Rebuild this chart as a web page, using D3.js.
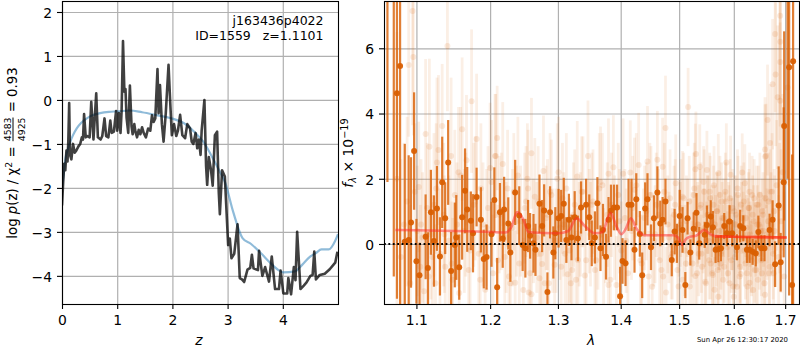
<!DOCTYPE html>
<html>
<head>
<meta charset="utf-8">
<script src="https://cdn.jsdelivr.net/npm/d3@7"></script>
<style>
    html, body { margin: 0; padding: 0; background: #fff; }
    svg { display: block; }
    text { font-family: "DejaVu Sans", sans-serif; fill: #000; }
</style>
</head>
<body>
<div id="chart"></div>
<script>
// Left panel: redshift grid and log p(z)
const pzZ = [0,.02,.04,.06,.08,.1,.115,.13,.145,.17,.2,.23,.26,.3,.33,.36,.38,.4,.43,.46,.5,.53,.57,.62,.65,.7,.73,.77,.8,.84,.875,.9,.94,.98,1,1.03,1.06,1.08,1.105,1.13,1.15,1.17,1.2,1.23,1.26,1.28,1.31,1.33,1.36,1.39,1.42,1.45,1.48,1.52,1.56,1.6,1.63,1.66,1.69,1.73,1.75,1.775,1.81,1.84,1.88,1.93,1.96,1.99,2.03,2.07,2.1,2.14,2.18,2.23,2.27,2.32,2.35,2.38,2.42,2.45,2.48,2.51,2.53,2.58,2.61,2.63,2.66,2.7,2.73,2.77,2.81,2.84,2.86,2.9,2.95,3.01,3.04,3.07,3.12,3.18,3.22,3.26,3.3,3.36,3.41,3.44,3.47,3.55,3.57,3.63,3.68,3.75,3.8,3.86,3.93,3.96,4.01,4.08,4.1,4.15,4.2,4.23,4.26,4.32,4.38,4.43,4.5,4.54,4.57,4.6,4.67,4.76,4.85,4.95,4.99];
const pzLog = [-2.4,-1.9,-1.45,-1.6,-1.15,-1.4,-.9,-.07,-1.25,-1.35,-1,-1.2,-1.15,-1.05,-1,-.85,-.9,-.32,-.85,-.82,-.85,-.04,-.9,.15,-.85,-.9,-.82,-.42,-.82,-.85,-.47,-.75,-.72,-.25,-.7,-.3,-.75,-.25,1.34,.19,.25,-.41,-.75,.33,-.6,-.78,-.55,-.72,-.85,-.68,-.78,-.62,-.75,-.85,-.65,-.7,-.35,-.5,-.42,.7,-.3,.34,-.55,-.95,-.3,.8,-.04,-.8,-.55,-.82,-.7,-.34,-.8,-.87,-.55,-.65,-.95,-1,-.75,-1.1,-.9,-1.25,-.7,0,-1.5,-1.93,-1.3,-1.6,-1.95,-.8,-.72,-2.1,-2.6,-1.6,-1.74,-3.3,-3.15,-3.6,-3.5,-2.83,-4.05,-4.08,-4.14,-3.86,-3.82,-3.52,-3.83,-3.87,-3.43,-4,-3.8,-4.13,-3.56,-4.3,-4.3,-3.88,-4.4,-4.4,-4.05,-4.42,-3.8,-4.1,-3,-4.3,-4.22,-4.15,-4,-3.98,-3.45,-4.08,-3.98,-3.95,-3.85,-3.7,-3.45];
const fitZ = [0,.03,.06,.1,.15,.2,.27,.35,.45,.55,.69,.85,1,1.23,1.45,1.73,1.96,2.26,2.4,2.56,2.7,2.86,2.95,3.1,3.27,3.42,3.6,3.77,3.9,4.01,4.22,4.35,4.49,4.6,4.7,4.83,4.95,5];
const fitLog = [-2,-1.7,-1.35,-1.15,-.95,-.8,-.64,-.52,-.42,-.35,-.3,-.27,-.26,-.24,-.28,-.35,-.41,-.57,-.73,-.95,-1.25,-1.63,-1.86,-2.54,-3.14,-3.27,-3.48,-3.7,-3.85,-3.92,-3.9,-3.75,-3.57,-3.48,-3.4,-3.4,-3.2,-3.05];
const zTicks = [0, 1, 2, 3, 4];
const logTicks = [2, 1, 0, -1, -2, -3, -4];

// Right panel: faint single-exposure spectrum
const faintLam = [
    1.075,1.08,1.084,1.088,1.09,1.092,1.095,1.096,1.098,1.101,
    1.103,1.105,1.108,1.11,1.112,1.114,1.117,1.119,1.121,1.123,
    1.125,1.127,1.129,1.131,1.134,1.136,1.138,1.141,1.143,1.146,
    1.148,1.151,1.154,1.157,1.159,1.161,1.164,1.167,1.17,1.174,
    1.177,1.181,1.184,1.187,1.19,1.193,1.197,1.2,1.204,1.207,
    1.208,1.21,1.213,1.218,1.221,1.225,1.229,1.232,1.236,1.24,
    1.244,1.248,1.252,1.255,1.256,1.26,1.26,1.265,1.268,1.272,
    1.276,1.278,1.28,1.284,1.288,1.292,1.295,1.299,1.303,1.307,
    1.311,1.315,1.32,1.322,1.326,1.33,1.331,1.335,1.339,1.342,
    1.347,1.351,1.355,1.36,1.365,1.37,1.375,1.38,1.38,1.385,
    1.388,1.393,1.398,1.404,1.409,1.416,1.42,1.423,1.43,1.435,
    1.44,1.445,1.449,1.453,1.458,1.46,1.462,1.466,1.471,1.472,
    1.476,1.477,1.48,1.484,1.488,1.491,1.494,1.497,1.5,1.503,
    1.506,1.506,1.51,1.513,1.516,1.518,1.521,1.524,1.527,1.529,
    1.529,1.53,1.533,1.535,1.537,1.539,1.541,1.543,1.545,1.547,
    1.549,1.55,1.552,1.554,1.556,1.558,1.56,1.561,1.563,1.565,
    1.567,1.569,1.571,1.571,1.573,1.575,1.577,1.579,1.581,1.582,
    1.584,1.586,1.588,1.59,1.592,1.594,1.596,1.598,1.6,1.602,
    1.604,1.606,1.608,1.61,1.612,1.613,1.614,1.616,1.618,1.62,
    1.621,1.623,1.625,1.627,1.629,1.63,1.63,1.632,1.634,1.636,
    1.637,1.639,1.641,1.643,1.645,1.647,1.649,1.65,1.652,1.654,
    1.656,1.658,1.66,1.66,1.66,1.662,1.664,1.665,1.667,1.669,
    1.67,1.672,1.674,1.675,1.677,1.679,1.68,1.681,1.683,1.685,
    1.687,1.689,1.69,1.69,1.69,1.69,1.692,1.695,1.698,1.705,
    1.106,1.116,1.126,1.137,1.147,1.156,1.166,1.172,1.179,1.186,
    1.195,1.202,1.211,1.216,1.223,1.227,1.234,1.238,1.242,1.25,
    1.254,1.258,1.263,1.27,1.274,1.282,1.286,1.29,1.297,1.301,
    1.305,1.309,1.313,1.318,1.324,1.328,1.333,1.337,1.344,1.349,
    1.353,1.358,1.363,1.367,1.372,1.378,1.383,1.39,1.396,1.401,
    1.407,1.412,1.418,1.426,1.433,1.438,1.443,1.447,1.451,1.456,
    1.464,1.469,1.474,1.482,1.486,1.493,1.499,1.502,1.508,1.512,
    1.515,1.519,1.523,1.526,1.532,1.534,1.538,1.54,1.544,1.546,
    1.548,1.551,1.553,1.555,1.557,1.559,1.562,1.564,1.566,1.568,
    1.57,1.572,1.574,1.576,1.578,1.58,1.583,1.585,1.587,1.589,
    1.591,1.593,1.595,1.597,1.599,1.601,1.603,1.605,1.607,1.609,
    1.611,1.615,1.617,1.619,1.622,1.624,1.626,1.628,1.631,1.633,
    1.635,1.638,1.64,1.642,1.644,1.646,1.648,1.651,1.653,1.655,
    1.657,1.659,1.661,1.663,1.666,1.668,1.671,1.673,1.676,1.678
];
const faintFlux = [
    2,-.4,.6,1.3,5.49,-1.2,7.14,5.73,1.6,.4,
    1.75,-.7,.2,-1.45,3.37,1.1,2.98,.3,-.4,1.2,
    -1.2,2.5,2.88,-.3,3.62,.9,-.7,6.07,.1,2.7,
    -1.1,1.5,.6,-1.5,2.1,3.52,.4,2.57,-.8,4.38,
    1.2,3.22,-.3,1.7,.6,-1.4,1.1,2.33,-.9,2.7,
    2.7,3.25,.9,2.45,-.4,1.7,-1.2,.5,-1.19,2.1,
    .7,-1.41,1.3,1.7,-1.49,2.78,-1.54,1.45,.2,-1.05,
    -.61,2.24,-1.2,.9,1.6,.1,-.64,2,.5,1.4,
    -.3,-.93,-1.2,-.8,1.2,2.07,-.49,.6,1.6,-.97,
    2.7,.3,1.3,-.5,1.7,1.8,.4,2.15,-1.26,1.2,
    2.35,-1.26,.7,2.15,.1,2.19,1.1,1.66,2.42,-.6,
    .8,2.53,1.5,-1.31,.3,1.2,2.58,-.5,2.37,-1,
    3.56,-1.49,.6,1.4,-.3,.9,1.86,-.8,.5,1.1,
    1.45,-1.1,-.2,.7,4.2,1.3,.1,-.6,1.7,2.29,
    -.98,2.76,.6,-.3,2.37,1.2,-.7,.4,1.6,-1.16,
    .1,2.27,.9,-.5,1.4,.3,-.9,-.95,1.8,.6,
    -.2,1,2.17,-1.62,.4,-.6,1.3,.1,.8,-.7,
    1.6,2.5,-.1,.7,-1.2,2.12,.3,1.1,-1.62,-.4,
    .9,-1.31,1.5,.2,-.7,-.92,1.2,2.19,.5,-.2,
    1.86,.8,-.9,.3,1.1,1.6,-1.19,.1,-.5,.9,
    -1.41,1.4,.2,-.8,.6,1.2,-.3,1.5,.4,-.9,
    .9,-.1,2.68,2.9,-1.56,2.7,.3,3.8,1.3,-.7,
    3.1,.6,1.6,4.9,-.9,.4,6.44,5.2,1.8,4.5,
    -.4,1.1,7,6.2,5.58,4.39,.7,2.2,-1,4.8,
    .6,-1,1.7,.3,-.6,2.2,.9,-.2,1.4,-1.1,
    .5,1.9,-.5,1,.2,-1,1.6,.7,-.6,1.1,
    2,-.9,.4,1.3,-.3,.8,-1.2,1.5,.1,2.2,
    -.7,.6,1.7,-.2,.9,-1.1,.3,1.6,-.5,.7,
    1.2,-.8,.2,1.9,-.4,.9,-1.1,.5,1.5,-.2,
    .8,-.9,.4,1.8,-.5,.3,1,-1,1.5,.1,
    .9,-.8,1.6,.2,-.4,1.2,-1.3,.6,1.4,-.6,
    .8,-1.3,.3,1.5,-.9,.6,1.1,-.3,1.9,.5,
    -1.2,.9,.1,1.6,-.6,.7,1.2,-1.4,.4,1,
    -.8,.2,1.5,-.3,.8,-1.1,.5,1.3,.1,-.9,
    .7,1.4,-.5,.3,-1.3,1,.6,-.2,1.7,.4,
    -1,.8,.2,1.3,-.6,.5,-1.3,1.1,.3,-.4,
    1.5,.7,-.8,.1,1.2,-1.1,.6,.2,-.5,1,
    .4,-1.2,1.4,.1,.7,-.9,1.6,.3,-.3,1
];
const faintErr = [
    4.5,3,2.5,2.6,2.2,2.4,3.5,2.4,2.1,2,
    2,1.9,2,1.8,2.3,2,2.7,2,1.9,2.2,
    1.8,2.6,2.3,2,1.9,2.2,1.8,2,2,2.4,
    1.9,2,1.9,1.8,2.1,2.2,1.9,2,1.8,2.2,
    1.9,2,1.8,2,1.9,1.7,1.9,2,1.8,1.9,
    1.9,1.6,1.8,1.9,1.7,1.8,1.7,1.8,1.6,1.8,
    1.7,1.6,1.7,1.8,1.6,1.7,1.5,1.8,1.7,1.6,
    1.7,1.7,1.5,1.7,1.8,1.6,1.6,1.7,1.6,1.7,
    1.6,1.5,1.5,1.6,1.7,1.7,1.6,1.6,1.7,1.5,
    1.7,1.6,1.6,1.5,1.7,1.6,1.6,1.7,1.5,1.6,
    1.6,1.5,1.6,1.7,1.6,1.6,1.6,1.6,1.6,1.5,
    1.6,1.7,1.6,1.4,1.5,1.6,1.5,1.4,1.5,1.4,
    1.6,1.4,1.5,1.5,1.4,1.5,1.5,1.4,1.5,1.5,
    1.4,1.4,1.4,1.4,1.2,1.4,1.3,1.3,1.4,1.4,
    1.2,1.3,1.3,1.3,1.3,1.3,1.2,1.3,1.3,1.2,
    1.2,1.2,1.2,1.2,1.3,1.2,1.2,1.1,1.2,1.2,
    1.1,1.2,1.2,1.1,1.2,1.1,1.2,1.1,1.2,1.1,
    1.2,1.2,1.1,1.2,1.1,1.2,1.1,1.2,1.1,1.1,
    1.2,1.1,1.2,1.1,1.1,1.1,1.2,1.2,1.1,1.1,
    1.2,1.2,1.1,1.1,1.2,1.2,1.1,1.1,1.1,1.2,
    1.1,1.2,1.1,1.1,1.2,1.2,1.1,1.3,1.2,1.2,
    1.3,1.2,1.6,1.6,1.4,1.6,1.4,1.7,1.5,1.4,
    1.8,1.6,1.8,2,1.7,1.7,2.4,2.2,2,2.2,
    1.9,2,3,2.6,2.4,2.4,2.2,2.4,2.6,3,
    2,1.9,2,1.8,1.9,2,1.9,1.8,1.9,1.7,
    1.8,1.9,1.7,1.8,1.7,1.6,1.8,1.7,1.6,1.7,
    1.7,1.5,1.6,1.7,1.6,1.6,1.5,1.7,1.6,1.7,
    1.5,1.6,1.7,1.6,1.6,1.5,1.6,1.7,1.5,1.6,
    1.6,1.5,1.6,1.7,1.5,1.6,1.5,1.6,1.6,1.5,
    1.5,1.4,1.5,1.6,1.4,1.4,1.5,1.4,1.5,1.4,
    1.4,1.3,1.5,1.4,1.3,1.4,1.3,1.3,1.4,1.3,
    1.2,1.2,1.3,1.3,1.2,1.2,1.2,1.2,1.1,1.2,
    1.1,1.2,1.1,1.2,1.1,1.1,1.2,1,1.1,1.2,
    1.1,1,1.2,1.1,1.1,1,1.1,1.2,1.1,1,
    1.1,1.2,1,1.1,1.2,1.1,1,1.1,1.2,1.1,
    1,1.1,1,1.2,1.1,1,1.2,1.1,1,1.1,
    1.2,1.1,1,1.1,1.2,1.1,1,1.2,1.1,1,
    1.1,1.2,1.2,1.1,1.3,1.2,1.3,1.2,1.4,1.3
];

// Right panel: solid combined spectrum
const solidLam = [
    1.063,1.071,1.075,1.079,1.085,1.09,1.093,1.097,1.1,1.104,
    1.112,1.115,1.119,1.123,1.127,1.131,1.134,1.138,1.142,1.146,
    1.151,1.153,1.157,1.161,1.165,1.168,1.173,1.176,1.181,1.187,
    1.191,1.195,1.202,1.206,1.21,1.214,1.218,1.22,1.226,1.229,
    1.236,1.242,1.247,1.251,1.255,1.258,1.263,1.266,1.272,1.276,
    1.279,1.284,1.288,1.293,1.296,1.301,1.305,1.309,1.313,1.317,
    1.321,1.326,1.331,1.336,1.344,1.349,1.353,1.358,1.362,1.367,
    1.371,1.376,1.38,1.384,1.389,1.394,1.399,1.403,1.408,1.413,
    1.418,1.423,1.426,1.432,1.436,1.441,1.445,1.451,1.456,1.462,
    1.467,1.471,1.476,1.487,1.492,1.496,1.501,1.506,1.511,1.515,
    1.52,1.526,1.531,1.536,1.546,1.55,1.557,1.561,1.566,1.571,
    1.576,1.582,1.587,1.592,1.597,1.606,1.612,1.618,1.625,1.63,
    1.636,1.642,1.647,1.653,1.659,1.669,1.675,1.68,1.687,1.691,
    1.697,1.698,1.705,1.708,1.714,1.716
];
const solidFlux = [
    8,8.5,4.62,5.46,.07,.12,.66,2.85,-.53,-.96,
    .22,-.74,.97,.09,1.09,-.38,1.89,.79,2.5,-.83,
    -.03,.2,-.71,.82,1.63,1.06,.71,.33,1.44,.74,
    -.46,-.4,.3,1.35,-1.33,.97,.17,1.06,.63,-.26,
    1.58,.87,-.03,-.13,.55,.25,.02,-.18,1.23,.55,
    1.03,-1.47,.97,-.26,.33,.79,.86,1.23,.12,.74,
    .2,.82,.17,1.12,1.2,.82,.02,.2,1.25,-.13,
    .43,-.39,.74,1.02,1.12,1.12,-1.6,-.52,-.59,1.2,
    1.2,-.18,1.37,.31,-.96,1.09,1.37,-.1,.79,1.58,
    .63,.74,1.3,-.49,.38,.02,.86,.43,-1.26,.79,
    -.26,.47,.96,.02,.28,.58,.84,.51,-.18,-.16,
    -.13,.55,.33,.69,.33,-.1,.55,.48,-.18,-.18,
    -.24,-.29,.37,-.13,-.13,.43,.74,-.62,1.18,-.56,
    1.89,3.62,9,5.42,-1.26,5.6
];
const solidErr = [
    6.1,9.5,6.3,7.5,3,2.6,2,1.8,1.3,1,
    1.3,1.1,1.3,1.4,1.3,1.2,1.4,1.1,1.3,1.2,
    1.3,1.3,1,1.3,1.3,1.3,.9,1.2,.9,1,
    .9,1,1,1,.9,.9,.9,1,.8,.9,
    1,.9,.8,.9,.8,.7,.9,.8,.9,.8,
    .8,.6,.8,.8,.8,.9,.8,.8,.7,.8,
    .7,.8,.7,.8,.8,.7,.7,.8,.8,.7,
    .8,.7,.7,.8,.7,.7,.9,.7,.7,.8,
    .8,.7,.8,.7,.7,.8,.8,.7,.7,.8,
    .7,.7,.7,.5,.7,.6,.8,.7,.4,.5,
    .4,.5,.6,.5,.4,.6,.5,.5,.4,.4,
    .4,.4,.4,.5,.4,.4,.5,.4,.4,.4,
    .4,.4,.5,.4,.4,.5,.6,.7,1.2,.9,
    2.3,2.9,7,7,4,8
];

// Right panel: model trace
const modelLam = [1.073,1.1,1.15,1.2,1.222,1.23,1.239,1.248,1.256,1.3,1.316,1.329,1.342,1.358,1.37,1.383,1.394,1.401,1.408,1.417,1.427,1.44,1.47,1.49,1.498,1.505,1.512,1.52,1.53,1.545,1.556,1.565,1.6,1.65,1.703];
const modelFlux = [.43,.42,.4,.37,.35,.5,.98,.75,.36,.33,.4,.79,.55,.33,.36,.95,.5,.3,.45,.79,.45,.27,.27,.27,.2,-.03,.15,.22,.25,.43,.3,.24,.22,.21,.2];
const lamTicks = [1.1, 1.2, 1.3, 1.4, 1.5, 1.6, 1.7];
const fluxTicks = [0, 2, 4, 6];

const width = 800;
const height = 350;
const panelTop = 1;
const panelBottom = 304;
const minus = d => String(d).replace("-", "\u2212");

const svg = d3.select("#chart").append("svg")
    .attr("width", width)
    .attr("height", height);

// Clip path, grid and spines shared by the two panels.
function makePanel(id, x0, x1, x, y, xTicks, yTicks, xFormat) {
    svg.append("clipPath").attr("id", id).append("rect")
        .attr("x", x0).attr("y", panelTop)
        .attr("width", x1 - x0).attr("height", panelBottom - panelTop);

    const grid = svg.append("g");
    grid.append("g")
        .attr("transform", `translate(0,${panelBottom})`)
        .call(d3.axisBottom(x).tickValues(xTicks).tickSize(-(panelBottom - panelTop)).tickFormat(""));
    grid.append("g")
        .attr("transform", `translate(${x0},0)`)
        .call(d3.axisLeft(y).tickValues(yTicks).tickSize(-(x1 - x0)).tickFormat(""));
    grid.selectAll(".domain").remove();
    grid.selectAll("line").attr("stroke", "#b0b0b0").attr("stroke-width", 1.2);

    const plot = svg.append("g").attr("clip-path", `url(#${id})`);

    // Axes go on last, once the marks are in.
    const finish = () => {
        const xAxis = svg.append("g")
            .attr("transform", `translate(0,${panelBottom})`)
            .call(d3.axisBottom(x).tickValues(xTicks).tickSize(5).tickPadding(6).tickFormat(xFormat));
        const yAxis = svg.append("g")
            .attr("transform", `translate(${x0},0)`)
            .call(d3.axisLeft(y).tickValues(yTicks).tickSize(5).tickPadding(5).tickFormat(minus));
        yAxis.selectAll("text").attr("dy", ".38em");
        [xAxis, yAxis].forEach(a => {
            a.attr("font-family", null).attr("font-size", null);
            a.selectAll("text").style("font-size", "13.9px");
            a.selectAll(".domain").remove();
            a.selectAll("line").attr("stroke", "#000").attr("stroke-width", 1.1);
        });
        svg.append("rect")
            .attr("x", x0 + .5).attr("y", panelTop + .5)
            .attr("width", x1 - x0).attr("height", panelBottom - panelTop)
            .attr("fill", "none").attr("stroke", "#000").attr("stroke-width", 1.1);
    };
    return { plot, finish };
}

// Sets a run of mixed text along a line, used for the rotated labels.
function mathLabel(cx, cy, fontSize, runs) {
    const g = svg.append("g").attr("transform", `translate(${cx},${cy}) rotate(-90)`);
    const inner = g.append("g");
    const small = fontSize * .7;
    let pos = 0;
    runs.forEach(r => {
        if (r.frac) {
            const a = inner.append("text").attr("y", -6.5).style("font-size", small + "px").text(r.frac[0]);
            const b = inner.append("text").attr("y", 7.5).style("font-size", small + "px").text(r.frac[1]);
            const w = Math.max(a.node().getComputedTextLength(), b.node().getComputedTextLength());
            a.attr("x", pos + 1); b.attr("x", pos + 1);
            inner.append("line")
                .attr("x1", pos + 1).attr("x2", pos + 1 + w)
                .attr("y1", -4).attr("y2", -4)
                .attr("stroke", "#000").attr("stroke-width", 1);
            pos += w + 2;
        } else {
            const t = inner.append("text")
                .attr("x", pos).attr("y", r.dy || 0)
                .attr("xml:space", "preserve")
                .style("white-space", "pre")
                .style("font-size", (r.small ? small : fontSize) + "px")
                .style("font-style", r.italic ? "italic" : "normal")
                .text(r.t);
            pos += t.node().getComputedTextLength();
        }
    });
    inner.attr("transform", `translate(${-pos / 2},0)`);
}

// Left panel
const zScale = d3.scaleLinear().domain([0, 5]).range([62, 338]);
const logScale = d3.scaleLinear().domain([-4.64, 2.25]).range([panelBottom, panelTop]);
const pzPanel = makePanel("clip-pz", 62, 338, zScale, logScale, zTicks, logTicks, d => d);

const fitLine = d3.line().x((d, i) => zScale(fitZ[i])).y(d => logScale(d)).curve(d3.curveMonotoneX);
pzPanel.plot.append("path")
    .attr("d", fitLine(fitLog))
    .attr("fill", "none")
    .attr("stroke", "#1f77b4").attr("stroke-opacity", .5).attr("stroke-width", 2.2);

const pzLine = d3.line().x((d, i) => zScale(pzZ[i])).y(d => logScale(d));
pzPanel.plot.append("path")
    .attr("d", pzLine(pzLog))
    .attr("fill", "none")
    .attr("stroke", "#000").attr("stroke-opacity", .75).attr("stroke-width", 2.6)
    .attr("stroke-linejoin", "round");

pzPanel.finish();

svg.append("text").attr("x", 323.5).attr("y", 25).attr("text-anchor", "end")
    .style("font-size", "12.5px").text("j163436p4022");
svg.append("text").attr("x", 323.5).attr("y", 40).attr("text-anchor", "end")
    .attr("xml:space", "preserve").style("white-space", "pre")
    .style("font-size", "12.5px").text("ID=1559   z=1.1101");

svg.append("text").attr("x", 199).attr("y", 345).attr("text-anchor", "middle")
    .style("font-size", "13.9px").style("font-style", "italic").text("z");

mathLabel(17, 153, 13.3, [
    { t: "log " },
    { t: "p", italic: true },
    { t: "(z) / " },
    { t: "\u03c7" },
    { t: "2", small: true, dy: -5.5 },
    { t: " = " },
    { frac: ["4583", "4925"] },
    { t: " = 0.93" }
]);

// Right panel
const lamScale = d3.scaleLog().domain([1.0587, 1.728]).range([384, 799]);
const fluxScale = d3.scaleLinear().domain([-1.84, 7.45]).range([panelBottom, panelTop]);
const specPanel = makePanel("clip-spec", 384, 799, lamScale, fluxScale, lamTicks, fluxTicks, d3.format(".1f"));

// Faint points first, then the solid ones on top.
function drawPoints(lam, flux, err, barColor, barOpacity, barWidth, dotColor, dotOpacity) {
    const idx = d3.range(lam.length);
    specPanel.plot.append("g").selectAll("line").data(idx).join("line")
        .attr("x1", i => lamScale(lam[i])).attr("x2", i => lamScale(lam[i]))
        .attr("y1", i => fluxScale(flux[i] - err[i]))
        .attr("y2", i => fluxScale(flux[i] + err[i]))
        .attr("stroke", barColor).attr("stroke-opacity", barOpacity).attr("stroke-width", barWidth);
    specPanel.plot.append("g").selectAll("circle").data(idx).join("circle")
        .attr("cx", i => lamScale(lam[i]))
        .attr("cy", i => fluxScale(flux[i]))
        .attr("r", 3)
        .attr("fill", dotColor).attr("fill-opacity", dotOpacity);
}

drawPoints(faintLam, faintFlux, faintErr, "#d95f02", .1, 2.8, "#d95f02", .13);
drawPoints(solidLam, solidFlux, solidErr, "#d95f02", .8, 2.2, "#d95f02", .95);

const modelLine = d3.line()
    .x((d, i) => lamScale(modelLam[i]))
    .y(d => fluxScale(d))
    .curve(d3.curveMonotoneX);
specPanel.plot.append("path")
    .attr("d", modelLine(modelFlux))
    .attr("fill", "none")
    .attr("stroke", "#ff2a2a").attr("stroke-opacity", .5).attr("stroke-width", 2.6);

// The flat red end is denser in the original, so go over it again.
const tailLine = d3.line()
    .x(d => lamScale(d.lam))
    .y(d => fluxScale(d.flux));
specPanel.plot.append("path")
    .attr("d", tailLine(modelLam.map((lam, i) => ({ lam, flux: modelFlux[i] })).filter(d => d.lam >= 1.565)))
    .attr("fill", "none")
    .attr("stroke", "#ff2a00").attr("stroke-opacity", .5).attr("stroke-width", 2.6);

specPanel.plot.append("line")
    .attr("x1", 384).attr("x2", 799)
    .attr("y1", fluxScale(0)).attr("y2", fluxScale(0))
    .attr("stroke", "#000").attr("stroke-width", 1.8)
    .attr("stroke-dasharray", "1.8 2.6");

specPanel.finish();

svg.append("text").attr("x", 591).attr("y", 345).attr("text-anchor", "middle")
    .style("font-size", "13.9px").style("font-style", "italic").text("\u03bb");

mathLabel(353, 153, 13.9, [
    { t: "f", italic: true },
    { t: "\u03bb", italic: true, small: true, dy: 3 },
    { t: " \u00d7 10" },
    { t: "\u221219", small: true, dy: -5.5 }
]);

svg.append("text").attr("x", 788).attr("y", 342).attr("text-anchor", "end")
    .style("font-size", "6.9px").text("Sun Apr 26 12:30:17 2020");
</script>
</body>
</html>
